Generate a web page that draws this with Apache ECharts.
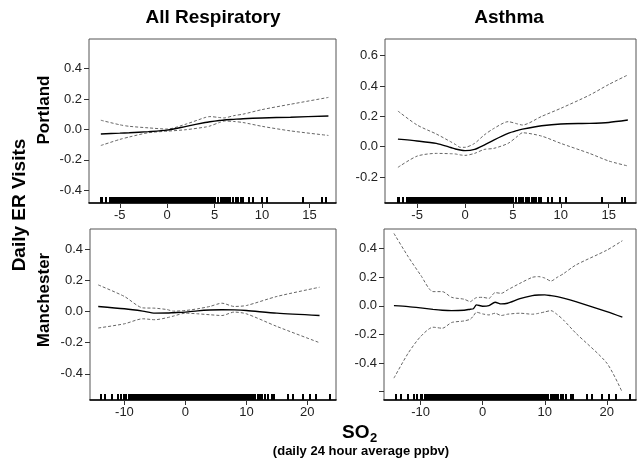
<!DOCTYPE html>
<html>
<head>
<meta charset="utf-8">
<script src="https://cdn.jsdelivr.net/npm/echarts@6/dist/echarts.min.js"></script>
<style>
  html, body { margin: 0; padding: 0; background: #fff; }
  #chart { width: 642px; height: 463px; }
</style>
</head>
<body>
<div id="chart"></div>
<script>
// ---- Smoothed SO2 effect on daily ER visits, with pointwise confidence bands ----

// Portland, all respiratory
const pdxRespX     = [-7, -5, -4, -2, 0, 2, 4, 4.5, 5.5, 6, 7, 8, 10, 13, 17];
const pdxRespFit   = [-0.03, -0.025, -0.022, -0.015, -0.005, 0.02, 0.045, 0.05, 0.058, 0.062, 0.066, 0.07, 0.075, 0.08, 0.088];
const pdxRespUpper = [0.06, 0.03, 0.02, 0.01, 0.002, 0.035, 0.078, 0.084, 0.078, 0.075, 0.09, 0.1, 0.13, 0.165, 0.21];
const pdxRespLower = [-0.106, -0.066, -0.05, -0.022, -0.012, -0.002, 0.015, 0.022, 0.045, 0.055, 0.052, 0.045, 0.02, -0.01, -0.04];

// Portland, asthma
const pdxAsthX     = [-7, -5, -3, -1.5, -1, -0.5, 0, 1, 2, 3, 4.5, 5.5, 6, 8, 10, 13, 15, 17];
const pdxAsthFit   = [0.05, 0.038, 0.022, -0.005, -0.015, -0.022, -0.026, -0.018, 0.011, 0.044, 0.088, 0.108, 0.116, 0.138, 0.15, 0.154, 0.16, 0.176];
const pdxAsthUpper = [0.235, 0.143, 0.084, 0.033, 0.015, -0.004, -0.004, 0.022, 0.077, 0.12, 0.165, 0.15, 0.143, 0.2, 0.253, 0.34, 0.41, 0.473];
const pdxAsthLower = [-0.136, -0.062, -0.044, -0.046, -0.048, -0.054, -0.057, -0.044, -0.018, -0.011, 0.022, 0.07, 0.092, 0.07, 0.022, -0.044, -0.094, -0.127];

// Manchester, all respiratory
const manRespX     = [-14.3, -10, -7, -5, -3, -2, 0, 2, 4, 6, 8, 10, 15, 22];
const manRespFit   = [0.032, 0.017, 0.002, -0.011, -0.01, -0.008, -0.004, 0.004, 0.009, 0.011, 0.01, 0.006, -0.011, -0.026];
const manRespUpper = [0.17, 0.096, 0.023, 0.021, 0.012, 0.002, 0.006, 0.017, 0.032, 0.053, 0.032, 0.038, 0.096, 0.155];
const manRespLower = [-0.106, -0.079, -0.047, -0.053, -0.04, -0.03, -0.011, -0.015, -0.021, -0.026, -0.004, -0.015, -0.096, -0.2];

// Manchester, asthma
const manAsthX     = [-14.3, -12, -10, -8, -6.5, -5, -3, -2, -1.5, -1, 0, 1, 2, 3, 4, 6, 8, 9, 10, 11, 12, 13, 15, 20, 22.5];
const manAsthFit   = [0.002, -0.005, -0.014, -0.024, -0.03, -0.033, -0.03, -0.023, -0.02, 0.007, -0.002, 0.002, 0.026, 0.014, 0.019, 0.051, 0.072, 0.076, 0.077, 0.072, 0.065, 0.055, 0.03, -0.04, -0.079];
const manAsthUpper = [0.507, 0.344, 0.216, 0.1, 0.1, 0.06, 0.047, 0.03, 0.045, 0.058, 0.06, 0.053, 0.093, 0.088, 0.112, 0.158, 0.2, 0.205, 0.195, 0.174, 0.2, 0.225, 0.286, 0.39, 0.456];
const manAsthLower = [-0.505, -0.33, -0.214, -0.149, -0.156, -0.116, -0.105, -0.093, -0.07, -0.044, -0.056, -0.063, -0.051, -0.067, -0.058, -0.051, -0.058, -0.052, -0.042, -0.033, -0.06, -0.098, -0.19, -0.4, -0.605];

// Observed SO2 values (rug marks along the x axis)
const pdxRug = [
  -7.0, -6.9, -6.5, -6.1, -5.9, -5.7, -5.6, -5.4, -5.3, -5.1, -4.9, -4.8, -4.6, -4.4, -4.3, -4.1, -4.0, -3.8, -3.7, -3.5,
  -3.3, -3.2, -3.1, -3.0, -2.9, -2.8, -2.7, -2.6, -2.5, -2.4, -2.3, -2.2, -2.1, -2.0, -1.9, -1.8, -1.7, -1.6, -1.5, -1.4,
  -1.3, -1.2, -1.1, -1.0, -0.9, -0.8, -0.7, -0.6, -0.5, -0.4, -0.3, -0.2, -0.1, 0.0, 0.1, 0.2, 0.3, 0.4, 0.5, 0.6,
  0.7, 0.8, 0.9, 1.0, 1.1, 1.2, 1.3, 1.4, 1.5, 1.6, 1.7, 1.8, 1.9, 2.0, 2.1, 2.2, 2.3, 2.4, 2.5, 2.6, 2.7, 2.8, 2.9, 3.0,
  3.1, 3.2, 3.3, 3.5, 3.6, 3.8, 3.9, 4.1, 4.2, 4.4, 4.6, 4.7, 4.9, 5.0, 5.3, 5.6, 5.8, 6.0, 6.3, 6.5, 6.6, 6.9, 7.2,
  7.4, 7.7, 7.9, 8.6, 9.0, 9.9, 10.5, 14.3, 16.3, 16.7
];
const manRug = [
  -14.0, -13.3, -12.1, -11.2, -10.6, -10.1, -9.8, -9.4, -9.1, -8.8, -8.6, -8.3, -8.1, -7.8, -7.6, -7.3, -7.1, -6.9, -6.7, -6.5,
  -6.2, -6.0, -5.8, -5.6, -5.4, -5.2, -5.0, -4.8, -4.6, -4.4, -4.2, -4.0, -3.8, -3.6, -3.4, -3.2, -3.0, -2.8, -2.6, -2.4,
  -2.2, -2.0, -1.8, -1.6, -1.4, -1.2, -1.0, -0.8, -0.6, -0.4, -0.2, 0.0, 0.2, 0.4, 0.6, 0.8, 1.0, 1.2, 1.4, 1.6,
  1.8, 2.0, 2.2, 2.4, 2.6, 2.8, 3.0, 3.2, 3.4, 3.6, 3.8, 4.0, 4.2, 4.4, 4.6, 4.8, 5.0, 5.2, 5.4, 5.6,
  5.8, 6.0, 6.2, 6.4, 6.6, 6.8, 7.0, 7.2, 7.4, 7.6, 7.8, 8.0, 8.2, 8.4, 8.6,
  8.9, 9.2, 9.4, 9.7, 10.0, 10.2, 10.5, 10.9, 11.2, 11.4, 11.8, 12.1, 12.5, 12.9, 13.4, 14.1, 14.4, 16.8, 17.5, 19.2, 20.3, 21.4, 23.6
];

// Axis ticks
const pdxXTicks = [-5, 0, 5, 10, 15];
const manXTicks = [-10, 0, 10, 20];
const respYTicks = [-0.4, -0.2, 0.0, 0.2, 0.4];
const pdxAsthYTicks = [-0.2, 0.0, 0.2, 0.4, 0.6];
const manAsthYTickMarks = [-0.6, -0.4, -0.2, 0.0, 0.2, 0.4];
const manAsthYTickLabels = [-0.4, -0.2, 0.0, 0.2, 0.4];

// Panel titles
const colTitles = ['All Respiratory', 'Asthma'];
const rowTitles = ['Portland', 'Manchester'];

const FONT = "'Liberation Sans', Arial, Helvetica, sans-serif";

const panels = [
  { grid: { left: 89, top: 39, width: 247, height: 164 }, xr: [-8.25, 17.8], yr: [-0.484, 0.594],
    x: pdxRespX, fit: pdxRespFit, up: pdxRespUpper, lo: pdxRespLower, rug: pdxRug,
    xt: pdxXTicks, ytm: respYTicks, ytl: respYTicks },
  { grid: { left: 385, top: 39, width: 251, height: 164 }, xr: [-8.35, 17.85], yr: [-0.371, 0.71],
    x: pdxAsthX, fit: pdxAsthFit, up: pdxAsthUpper, lo: pdxAsthLower, rug: pdxRug,
    xt: pdxXTicks, ytm: pdxAsthYTicks, ytl: pdxAsthYTicks },
  { grid: { left: 90, top: 229, width: 246, height: 171 }, xr: [-15.65, 24.7], yr: [-0.567, 0.528],
    x: manRespX, fit: manRespFit, up: manRespUpper, lo: manRespLower, rug: manRug,
    xt: manXTicks, ytm: respYTicks, ytl: respYTicks },
  { grid: { left: 384, top: 229, width: 252, height: 171 }, xr: [-15.9, 24.7], yr: [-0.658, 0.538],
    x: manAsthX, fit: manAsthFit, up: manAsthUpper, lo: manAsthLower, rug: manRug,
    xt: manXTicks, ytm: manAsthYTickMarks, ytl: manAsthYTickLabels }
];

const zip = (xs, ys) => xs.map((v, i) => [v, ys[i]]);

// Rug tick: a short bar rising from the bottom of the plot area
function renderRug(params, api) {
  const pt = api.coord([api.value(0), api.value(1)]);
  return {
    type: 'rect',
    shape: { x: Math.floor(pt[0]), y: pt[1] - 6, width: 2, height: 6 },
    style: { fill: '#000' },
    silent: true
  };
}

const grids = [], xAxes = [], yAxes = [], series = [];
panels.forEach((p, i) => {
  grids.push(Object.assign({ show: true, borderColor: '#555', borderWidth: 1, backgroundColor: 'transparent' }, p.grid));
  xAxes.push({
    type: 'value', gridIndex: i, min: p.xr[0], max: p.xr[1], position: 'bottom',
    axisLine: { show: true, onZero: false, lineStyle: { color: '#000', width: 1.6 } },
    axisTick: { show: true, length: 5, lineStyle: { color: '#333' }, customValues: p.xt },
    axisLabel: { show: true, margin: 6, fontSize: 13, color: '#222', fontFamily: FONT,
      customValues: p.xt, formatter: v => String(Math.round(v)) },
    splitLine: { show: false }
  });
  yAxes.push({
    type: 'value', gridIndex: i, min: p.yr[0], max: p.yr[1], position: 'left',
    axisLine: { show: false, onZero: false },
    axisTick: { show: true, length: 5, lineStyle: { color: '#333' }, customValues: p.ytm },
    axisLabel: { show: true, margin: 7, fontSize: 13, color: '#222', fontFamily: FONT,
      customValues: p.ytl, formatter: v => v.toFixed(1) },
    splitLine: { show: false }
  });
  const band = { color: '#666', width: 1, type: [3, 2] };
  series.push(
    { type: 'line', xAxisIndex: i, yAxisIndex: i, data: zip(p.x, p.up), showSymbol: false, smooth: 0.25,
      lineStyle: band, silent: true, z: 2 },
    { type: 'line', xAxisIndex: i, yAxisIndex: i, data: zip(p.x, p.lo), showSymbol: false, smooth: 0.25,
      lineStyle: band, silent: true, z: 2 },
    { type: 'line', xAxisIndex: i, yAxisIndex: i, data: zip(p.x, p.fit), showSymbol: false, smooth: 0.25,
      lineStyle: { color: '#000', width: 1.4 }, silent: true, z: 3 },
    { type: 'custom', xAxisIndex: i, yAxisIndex: i, data: p.rug.map(v => [v, p.yr[0]]),
      renderItem: renderRug, clip: false, silent: true, z: 4 }
  );
});

const txt = (text, x, y, size, extra) => Object.assign({
  type: 'text', x: x, y: y,
  style: { text: text, font: 'bold ' + size + 'px ' + FONT, fill: '#000', align: 'center', verticalAlign: 'middle' }
}, extra || {});

const chart = echarts.init(document.getElementById('chart'), null, { renderer: 'canvas' });
chart.setOption({
  animation: false,
  backgroundColor: '#fff',
  grid: grids,
  xAxis: xAxes,
  yAxis: yAxes,
  series: series,
  graphic: [
    txt(colTitles[0], 213, 18, 19),
    txt(colTitles[1], 509, 18, 19),
    txt('Daily ER Visits', 20, 205, 19, { rotation: Math.PI / 2 }),
    txt(rowTitles[0], 44, 110, 17, { rotation: Math.PI / 2 }),
    txt(rowTitles[1], 44, 300, 17, { rotation: Math.PI / 2 }),
    { type: 'text', x: 342, y: 433, style: { text: 'SO', font: 'bold 19px ' + FONT, fill: '#000', align: 'left', verticalAlign: 'middle' } },
    { type: 'text', x: 370, y: 438, style: { text: '2', font: 'bold 13px ' + FONT, fill: '#000', align: 'left', verticalAlign: 'middle' } },
    txt('(daily 24 hour average ppbv)', 361, 451, 13)
  ]
});
</script>
</body>
</html>
